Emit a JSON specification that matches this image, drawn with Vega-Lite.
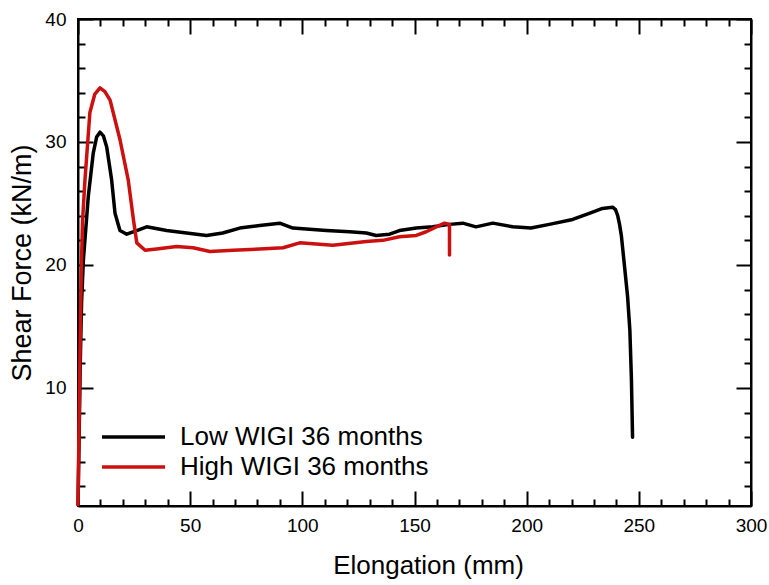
{
  "$schema": "https://vega.github.io/schema/vega-lite/v6.json",
  "width": 673,
  "height": 487,
  "autosize": {"type": "none"},
  "padding": {"left": 78, "top": 19, "right": 18, "bottom": 79},
  "background": "white",
  "config": {
    "font": "Liberation Sans",
    "view": {"stroke": "black", "strokeWidth": 2},
    "axis": {
      "grid": false,
      "domainColor": "black",
      "domainWidth": 2,
      "tickColor": "black",
      "tickWidth": 2,
      "labelColor": "black",
      "labelFont": "Liberation Sans",
      "labelFontSize": 19,
      "titleColor": "black",
      "titleFont": "Liberation Sans",
      "titleFontWeight": "normal"
    }
  },
  "data": {
    "values": [
      {"s": "Low WIGI 36 months", "i": 1, "x": 0, "y": 0.5},
      {"s": "Low WIGI 36 months", "i": 2, "x": 0.5, "y": 6},
      {"s": "Low WIGI 36 months", "i": 3, "x": 1.0, "y": 12},
      {"s": "Low WIGI 36 months", "i": 4, "x": 1.6, "y": 17},
      {"s": "Low WIGI 36 months", "i": 5, "x": 2.4, "y": 20.4},
      {"s": "Low WIGI 36 months", "i": 6, "x": 4.6, "y": 25.6},
      {"s": "Low WIGI 36 months", "i": 7, "x": 6.8, "y": 29.1},
      {"s": "Low WIGI 36 months", "i": 8, "x": 8.3, "y": 30.4},
      {"s": "Low WIGI 36 months", "i": 9, "x": 9.8, "y": 30.8},
      {"s": "Low WIGI 36 months", "i": 10, "x": 11.3, "y": 30.5},
      {"s": "Low WIGI 36 months", "i": 11, "x": 12.8, "y": 29.6},
      {"s": "Low WIGI 36 months", "i": 12, "x": 15.0, "y": 26.9},
      {"s": "Low WIGI 36 months", "i": 13, "x": 16.5, "y": 24.2},
      {"s": "Low WIGI 36 months", "i": 14, "x": 18.7, "y": 22.8},
      {"s": "Low WIGI 36 months", "i": 15, "x": 21.7, "y": 22.5},
      {"s": "Low WIGI 36 months", "i": 16, "x": 26.2, "y": 22.8},
      {"s": "Low WIGI 36 months", "i": 17, "x": 30.6, "y": 23.1},
      {"s": "Low WIGI 36 months", "i": 18, "x": 39.5, "y": 22.8},
      {"s": "Low WIGI 36 months", "i": 19, "x": 48.4, "y": 22.6},
      {"s": "Low WIGI 36 months", "i": 20, "x": 57.3, "y": 22.4},
      {"s": "Low WIGI 36 months", "i": 21, "x": 64.5, "y": 22.6},
      {"s": "Low WIGI 36 months", "i": 22, "x": 72.1, "y": 23.0},
      {"s": "Low WIGI 36 months", "i": 23, "x": 76.5, "y": 23.1},
      {"s": "Low WIGI 36 months", "i": 24, "x": 81.0, "y": 23.2},
      {"s": "Low WIGI 36 months", "i": 25, "x": 89.9, "y": 23.4},
      {"s": "Low WIGI 36 months", "i": 26, "x": 95.8, "y": 23.0},
      {"s": "Low WIGI 36 months", "i": 27, "x": 110.7, "y": 22.8},
      {"s": "Low WIGI 36 months", "i": 28, "x": 121.1, "y": 22.7},
      {"s": "Low WIGI 36 months", "i": 29, "x": 128.5, "y": 22.6},
      {"s": "Low WIGI 36 months", "i": 30, "x": 132.9, "y": 22.4},
      {"s": "Low WIGI 36 months", "i": 31, "x": 138.9, "y": 22.5},
      {"s": "Low WIGI 36 months", "i": 32, "x": 143.3, "y": 22.8},
      {"s": "Low WIGI 36 months", "i": 33, "x": 150.8, "y": 23.0},
      {"s": "Low WIGI 36 months", "i": 34, "x": 158.1, "y": 23.1},
      {"s": "Low WIGI 36 months", "i": 35, "x": 165.6, "y": 23.3},
      {"s": "Low WIGI 36 months", "i": 36, "x": 171.5, "y": 23.4},
      {"s": "Low WIGI 36 months", "i": 37, "x": 177.4, "y": 23.1},
      {"s": "Low WIGI 36 months", "i": 38, "x": 184.9, "y": 23.4},
      {"s": "Low WIGI 36 months", "i": 39, "x": 193.8, "y": 23.1},
      {"s": "Low WIGI 36 months", "i": 40, "x": 201.9, "y": 23.0},
      {"s": "Low WIGI 36 months", "i": 41, "x": 210.1, "y": 23.3},
      {"s": "Low WIGI 36 months", "i": 42, "x": 220.5, "y": 23.7},
      {"s": "Low WIGI 36 months", "i": 43, "x": 227.9, "y": 24.2},
      {"s": "Low WIGI 36 months", "i": 44, "x": 233.8, "y": 24.6},
      {"s": "Low WIGI 36 months", "i": 45, "x": 238.3, "y": 24.7},
      {"s": "Low WIGI 36 months", "i": 46, "x": 239.6, "y": 24.5},
      {"s": "Low WIGI 36 months", "i": 47, "x": 240.6, "y": 24.0},
      {"s": "Low WIGI 36 months", "i": 48, "x": 241.4, "y": 23.3},
      {"s": "Low WIGI 36 months", "i": 49, "x": 242.2, "y": 22.4},
      {"s": "Low WIGI 36 months", "i": 50, "x": 243.5, "y": 20.1},
      {"s": "Low WIGI 36 months", "i": 51, "x": 245.0, "y": 17.4},
      {"s": "Low WIGI 36 months", "i": 52, "x": 246.0, "y": 14.7},
      {"s": "Low WIGI 36 months", "i": 53, "x": 246.7, "y": 10.7},
      {"s": "Low WIGI 36 months", "i": 54, "x": 247.2, "y": 6.0},
      {"s": "High WIGI 36 months", "i": 1, "x": 0, "y": 0.5},
      {"s": "High WIGI 36 months", "i": 2, "x": 0.4, "y": 6},
      {"s": "High WIGI 36 months", "i": 3, "x": 0.9, "y": 13},
      {"s": "High WIGI 36 months", "i": 4, "x": 1.4, "y": 19},
      {"s": "High WIGI 36 months", "i": 5, "x": 2.0, "y": 23.5},
      {"s": "High WIGI 36 months", "i": 6, "x": 3.1, "y": 26.9},
      {"s": "High WIGI 36 months", "i": 7, "x": 5.3, "y": 32.4},
      {"s": "High WIGI 36 months", "i": 8, "x": 7.5, "y": 33.9},
      {"s": "High WIGI 36 months", "i": 9, "x": 9.8, "y": 34.4},
      {"s": "High WIGI 36 months", "i": 10, "x": 12.0, "y": 34.1},
      {"s": "High WIGI 36 months", "i": 11, "x": 14.3, "y": 33.4},
      {"s": "High WIGI 36 months", "i": 12, "x": 18.7, "y": 30.2},
      {"s": "High WIGI 36 months", "i": 13, "x": 22.4, "y": 26.9},
      {"s": "High WIGI 36 months", "i": 14, "x": 24.7, "y": 23.7},
      {"s": "High WIGI 36 months", "i": 15, "x": 26.2, "y": 21.8},
      {"s": "High WIGI 36 months", "i": 16, "x": 29.9, "y": 21.2},
      {"s": "High WIGI 36 months", "i": 17, "x": 35.0, "y": 21.3},
      {"s": "High WIGI 36 months", "i": 18, "x": 43.9, "y": 21.5},
      {"s": "High WIGI 36 months", "i": 19, "x": 51.3, "y": 21.4},
      {"s": "High WIGI 36 months", "i": 20, "x": 58.8, "y": 21.1},
      {"s": "High WIGI 36 months", "i": 21, "x": 69.1, "y": 21.2},
      {"s": "High WIGI 36 months", "i": 22, "x": 81.0, "y": 21.3},
      {"s": "High WIGI 36 months", "i": 23, "x": 91.4, "y": 21.4},
      {"s": "High WIGI 36 months", "i": 24, "x": 98.8, "y": 21.8},
      {"s": "High WIGI 36 months", "i": 25, "x": 113.6, "y": 21.6},
      {"s": "High WIGI 36 months", "i": 26, "x": 128.5, "y": 21.9},
      {"s": "High WIGI 36 months", "i": 27, "x": 135.9, "y": 22.0},
      {"s": "High WIGI 36 months", "i": 28, "x": 143.3, "y": 22.3},
      {"s": "High WIGI 36 months", "i": 29, "x": 150.8, "y": 22.4},
      {"s": "High WIGI 36 months", "i": 30, "x": 155.2, "y": 22.7},
      {"s": "High WIGI 36 months", "i": 31, "x": 159.7, "y": 23.1},
      {"s": "High WIGI 36 months", "i": 32, "x": 163.4, "y": 23.4},
      {"s": "High WIGI 36 months", "i": 33, "x": 165.6, "y": 23.3},
      {"s": "High WIGI 36 months", "i": 34, "x": 165.6, "y": 20.8}
    ]
  },
  "layer": [
    {
      "mark": {"type": "line", "strokeWidth": 3.5, "strokeJoin": "round", "strokeCap": "round"},
      "encoding": {
        "x": {
          "field": "x", "type": "quantitative",
          "scale": {"domain": [0, 300], "nice": false, "zero": false},
          "axis": {
            "orient": "bottom",
            "title": "Elongation (mm)",
            "titleFontSize": 26,
            "titlePadding": 9,
            "titleX": 350,
            "titleAlign": "center",
            "values": [0,10,20,30,40,50,60,70,80,90,100,110,120,130,140,150,160,170,180,190,200,210,220,230,240,250,260,270,280,290,300],
            "labelExpr": "datum.value % 50 === 0 ? datum.label : ''",
            "tickSize": {"condition": {"test": "datum.value % 50 === 0", "value": -15}, "value": -7},
            "labelPadding": 25,
            "labelFlush": false,
            "labelOverlap": false
          }
        },
        "y": {
          "field": "y", "type": "quantitative",
          "scale": {"domain": [0.4, 40], "nice": false, "zero": false},
          "axis": {
            "orient": "left",
            "title": "Shear Force (kN/m)",
            "titleFontSize": 27,
            "titlePadding": 8,
            "values": [2,4,6,8,10,12,14,16,18,20,22,24,26,28,30,32,34,36,38,40],
            "labelExpr": "datum.value % 10 === 0 ? datum.label : ''",
            "tickSize": {"condition": {"test": "datum.value % 10 === 0", "value": -15}, "value": -7},
            "labelPadding": 27,
            "labelFlush": false,
            "labelOverlap": false
          }
        },
        "color": {
          "field": "s", "type": "nominal",
          "scale": {"domain": ["Low WIGI 36 months", "High WIGI 36 months"], "range": ["#000000", "#cc1010"]},
          "legend": {
            "orient": "none",
            "legendX": 22,
            "legendY": 403,
            "title": null,
            "padding": 0,
            "symbolType": "stroke",
            "symbolSize": 3969,
            "symbolStrokeWidth": 3.5,
            "clipHeight": 30,
            "rowPadding": 0,
            "labelFontSize": 26,
            "labelFont": "Liberation Sans",
            "labelColor": "black",
            "labelOffset": 13,
            "labelLimit": 400
          }
        },
        "order": {"field": "i", "type": "quantitative"}
      }
    },
    {
      "mark": {"type": "line", "opacity": 0},
      "encoding": {
        "x": {
          "field": "x", "type": "quantitative",
          "scale": {"domain": [0, 300], "nice": false, "zero": false},
          "axis": {
            "orient": "top",
            "title": null,
            "labels": false,
            "values": [0,10,20,30,40,50,60,70,80,90,100,110,120,130,140,150,160,170,180,190,200,210,220,230,240,250,260,270,280,290,300],
            "tickSize": {"condition": {"test": "datum.value % 50 === 0", "value": -15}, "value": -7}
          }
        },
        "y": {
          "field": "y", "type": "quantitative",
          "scale": {"domain": [0.4, 40], "nice": false, "zero": false},
          "axis": {
            "orient": "right",
            "title": null,
            "labels": false,
            "values": [2,4,6,8,10,12,14,16,18,20,22,24,26,28,30,32,34,36,38,40],
            "tickSize": {"condition": {"test": "datum.value % 10 === 0", "value": -15}, "value": -7}
          }
        },
        "detail": {"field": "s", "type": "nominal"},
        "order": {"field": "i", "type": "quantitative"}
      }
    }
  ],
  "resolve": {"scale": {"x": "independent", "y": "independent"}}
}
